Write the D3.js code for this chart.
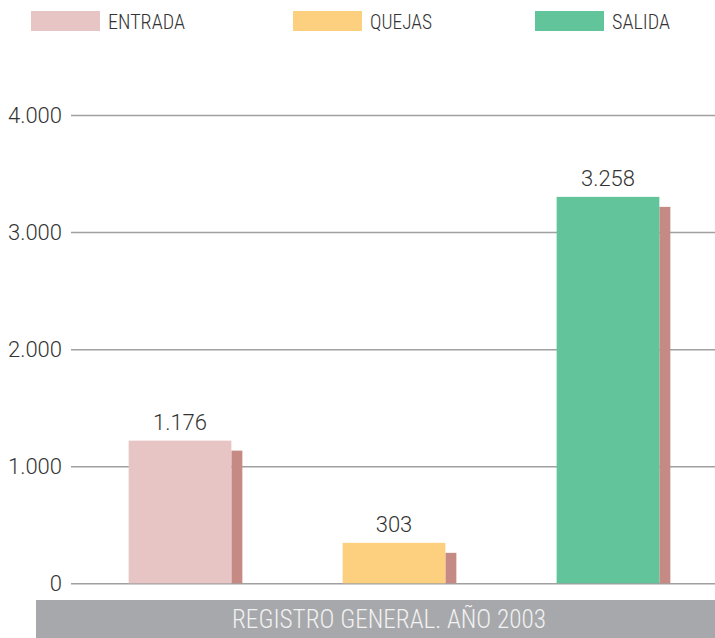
<!DOCTYPE html>
<html><head><meta charset="utf-8">
<script src="https://cdn.jsdelivr.net/npm/d3@7"></script>
<style>html,body{margin:0;padding:0;background:#fff;}svg{display:block;}</style>
</head><body>
<svg id="c" width="715" height="638"></svg>
<script>
const categories = ["ENTRADA", "QUEJAS", "SALIDA"];
const values = [1176, 303, 3258];
const valueLabels = ["1.176", "303", "3.258"];
const tickValues = [0, 1000, 2000, 3000, 4000];
const tickLabels = ["0", "1.000", "2.000", "3.000", "4.000"];
const colors = ["#e6c5c4", "#fdd080", "#62c49a"];
const shadowColor = "#c68a84";
const footerText = "REGISTRO GENERAL. AÑO 2003";

const svg = d3.select("#c");
const numFont = "Roboto, 'Open Sans', sans-serif";
const condFont = "'Liberation Sans Narrow', 'Roboto Condensed', 'DejaVu Sans Condensed', sans-serif";

const y = d3.scaleLinear().domain([0, 4000]).range([583.3, 115]);
const x = d3.scaleBand().domain(categories).range([73, 715]).paddingInner(0.52).paddingOuter(0.26);

// gridlines via axis
const axis = d3.axisLeft(y).tickValues(tickValues).tickSize(-644).tickFormat("");
const g = svg.append("g").attr("transform", "translate(71,0)").call(axis);
g.select(".domain").remove();
g.selectAll(".tick line").attr("stroke", "#a0a0a0").attr("stroke-width", 1.5);
g.selectAll(".tick text").remove();
// tick labels
svg.append("g").selectAll("text").data(tickValues).join("text")
  .attr("x", 62).attr("y", d => y(d)).attr("dy", "0.36em")
  .attr("text-anchor", "end").attr("font-family", numFont).attr("font-weight", 300).attr("font-size", 22)
  .attr("fill", "#333").text((d, i) => tickLabels[i]);

// bars
const bars = svg.append("g");
categories.forEach((c, i) => {
  const x0 = x(c), w = x.bandwidth();
  bars.append("rect").attr("x", x0 + w).attr("width", 11)
    .attr("y", y(values[i]) + 5).attr("height", y(0) - y(values[i]) - 5)
    .attr("fill", shadowColor);
  bars.append("rect").attr("x", x0).attr("width", w)
    .attr("y", y(values[i]) - 5).attr("height", y(0) - y(values[i]) + 5)
    .attr("fill", colors[i]);
  bars.append("text").attr("x", x0 + w / 2).attr("y", y(values[i]) - 16)
    .attr("text-anchor", "middle").attr("font-family", numFont).attr("font-weight", 300).attr("font-size", 22)
    .attr("fill", "#333").text(valueLabels[i]);
});

// legend
const legX = [31, 293, 535];
const legW = [77, 62, 58];
categories.forEach((c, i) => {
  svg.append("rect").attr("x", legX[i]).attr("y", 11).attr("width", 69).attr("height", 20).attr("fill", colors[i]);
  svg.append("text").attr("x", legX[i] + 77).attr("y", 29).attr("font-family", condFont)
    .attr("font-size", 20).attr("font-weight", 300).attr("fill", "#333")
    .attr("textLength", legW[i]).attr("lengthAdjust", "spacingAndGlyphs").text(c);
});

// footer band
svg.append("rect").attr("x", 36).attr("y", 600).attr("width", 679).attr("height", 38).attr("fill", "#a7a8ab");
svg.append("text").attr("x", 389).attr("y", 628).attr("text-anchor", "middle")
  .attr("font-family", condFont).attr("font-size", 25).attr("font-weight", 300).attr("fill", "#f2f2f2")
  .attr("textLength", 314).attr("lengthAdjust", "spacingAndGlyphs").text(footerText);
</script>
</body></html>
